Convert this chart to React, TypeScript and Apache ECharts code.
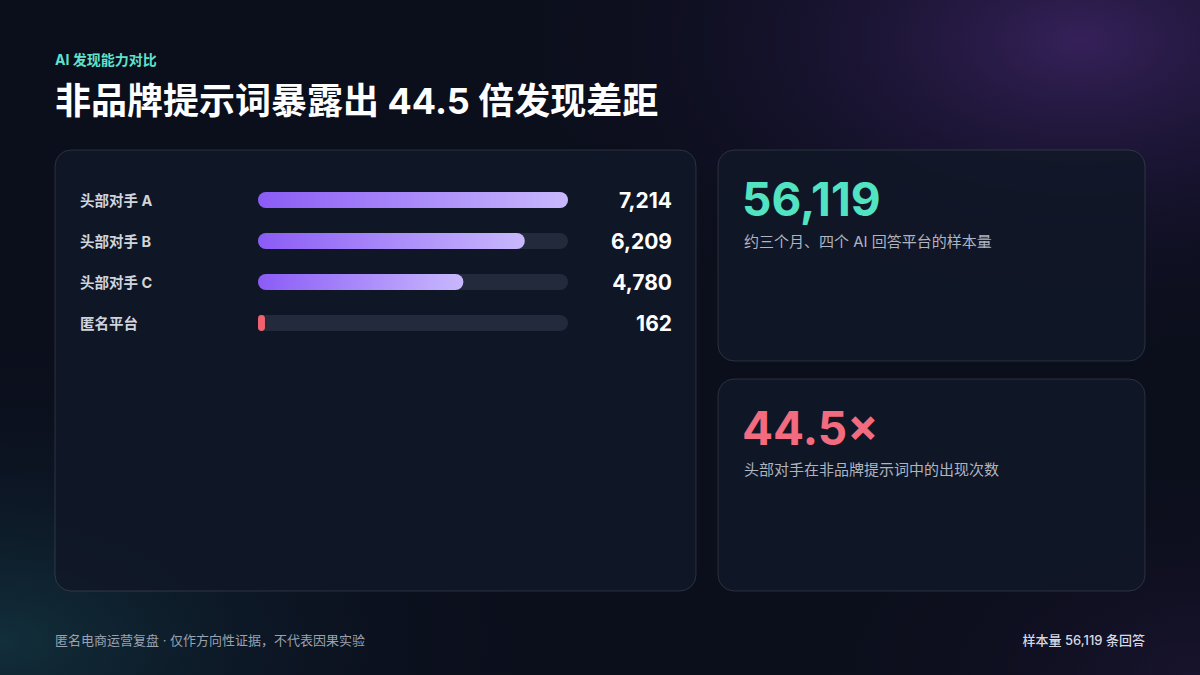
import React, { useEffect, useRef } from "react";
import * as echarts from "echarts";

const categories = ["头部对手 A", "头部对手 B", "头部对手 C", "匿名平台"];
const values = [7214, 6209, 4780, 162];
const barColorsStart = ["#8b5cf6", "#8b5cf6", "#8b5cf6", "#f0626f"];
const barColorsEnd = ["#c8b8fd", "#c8b8fd", "#c8b8fd", "#f0626f"];

const kicker = "AI 发现能力对比";
const title = "非品牌提示词暴露出 44.5 倍发现差距";
const stat1Value = "56,119";
const stat1Label = "约三个月、四个 AI 回答平台的样本量";
const stat2Value = "44.5×";
const stat2Label = "头部对手在非品牌提示词中的出现次数";
const footLeft = "匿名电商运营复盘 · 仅作方向性证据，不代表因果实验";
const footRight = "样本量 56,119 条回答";

const FONT = "Inter, 'Noto Sans CJK SC', 'Noto Sans', sans-serif";

export default function App() {
  const ref = useRef<HTMLDivElement>(null);
  useEffect(() => {
    if (!ref.current) return;
    const chart = echarts.init(ref.current, null, { renderer: "svg" });
    const maxV = Math.max(...values);
    const txt = (text: string, x: number, y: number, size: number, weight: string | number, fill: string, align = "left") => ({
      type: "text",
      z: 20,
      style: {
        text,
        x,
        y,
        fill,
        font: `${weight} ${size}px ${FONT}`,
        align,
        verticalAlign: "middle",
        textAlign: align,
        textVerticalAlign: "middle",
      },
    });
    const card = (x: number, y: number, w: number, h: number) => ({
      type: "rect",
      z: 1,
      shape: { x, y, width: w, height: h, r: 16 },
      style: {
        fill: "rgba(17,24,39,0.85)",
        stroke: "rgba(255,255,255,0.13)",
        lineWidth: 1,
      },
    });
    chart.setOption({
      animation: false,
      backgroundColor: "#0b0e1b",
      graphic: [
        {
          type: "rect",
          z: 0,
          shape: { x: 0, y: 0, width: 1200, height: 675 },
          style: {
            fill: new echarts.graphic.RadialGradient(0.9, 0.06, 0.5, [
              { offset: 0, color: "rgba(88,48,140,0.55)" },
              { offset: 0.5, color: "rgba(50,30,90,0.25)" },
              { offset: 1, color: "rgba(11,14,27,0)" },
            ]),
          },
        },
        {
          type: "rect",
          z: 0,
          shape: { x: 0, y: 0, width: 1200, height: 675 },
          style: {
            fill: new echarts.graphic.RadialGradient(0.0, 0.95, 0.5, [
              { offset: 0, color: "rgba(24,80,90,0.5)" },
              { offset: 0.6, color: "rgba(16,40,60,0.15)" },
              { offset: 1, color: "rgba(11,14,27,0)" },
            ]),
          },
        },
        {
          type: "rect",
          z: 0,
          shape: { x: 0, y: 0, width: 1200, height: 675 },
          style: {
            fill: new echarts.graphic.RadialGradient(1.0, 1.0, 0.35, [
              { offset: 0, color: "rgba(50,30,80,0.35)" },
              { offset: 1, color: "rgba(11,14,27,0)" },
            ]),
          },
        },
        card(55, 150, 641, 441),
        card(718, 150, 427, 211),
        card(718, 379, 427, 212),
        txt(kicker, 55, 59, 14, 700, "#5fe3cc"),
        txt(title, 55, 101, 36, 700, "#ffffff"),
        txt(stat1Value, 742, 199, 46, 700, "#52e3c2"),
        txt(stat1Label, 744, 241, 15, 400, "#aeb4c2"),
        txt(stat2Value, 742, 428, 46, 700, "#f26b7e"),
        txt(stat2Label, 744, 469, 15, 400, "#aeb4c2"),
        txt(footLeft, 55, 640, 13, 400, "#9aa1b0"),
        txt(footRight, 1145, 640, 13, 500, "#d5d9e2", "right"),
      ],
      grid: { left: 258, width: 310, top: 179.5, height: 164, containLabel: false },
      xAxis: { type: "value", min: 0, max: maxV, show: false },
      yAxis: [
        {
          type: "category",
          z: 10,
          data: categories,
          inverse: true,
          axisLine: { show: false },
          axisTick: { show: false },
          axisLabel: {
            align: "left",
            margin: 178,
            color: "#cfd4dd",
            fontSize: 14.5,
            fontWeight: 700,
            fontFamily: FONT,
          },
        },
        {
          type: "category",
          z: 10,
          data: values.map((v) => v.toLocaleString("en-US")),
          inverse: true,
          position: "right",
          axisLine: { show: false },
          axisTick: { show: false },
          axisLabel: {
            align: "right",
            margin: 104,
            color: "#ffffff",
            fontSize: 21,
            fontWeight: 700,
            fontFamily: FONT,
          },
        },
      ],
      series: [
        {
          type: "bar",
          z: 5,
          barWidth: 16,
          showBackground: true,
          backgroundStyle: { color: "#232a3c", borderRadius: 8 },
          data: values.map((v, i) => ({
            value: v,
            itemStyle: {
              borderRadius: 8,
              color: new echarts.graphic.LinearGradient(0, 0, 1, 0, [
                { offset: 0, color: barColorsStart[i] },
                { offset: 1, color: barColorsEnd[i] },
              ]),
            },
          })),
        },
      ],
    });
    return () => chart.dispose();
  }, []);
  return (
    <div
      ref={ref}
      style={{ position: "fixed", left: 0, top: 0, width: 1200, height: 675 }}
    />
  );
}
